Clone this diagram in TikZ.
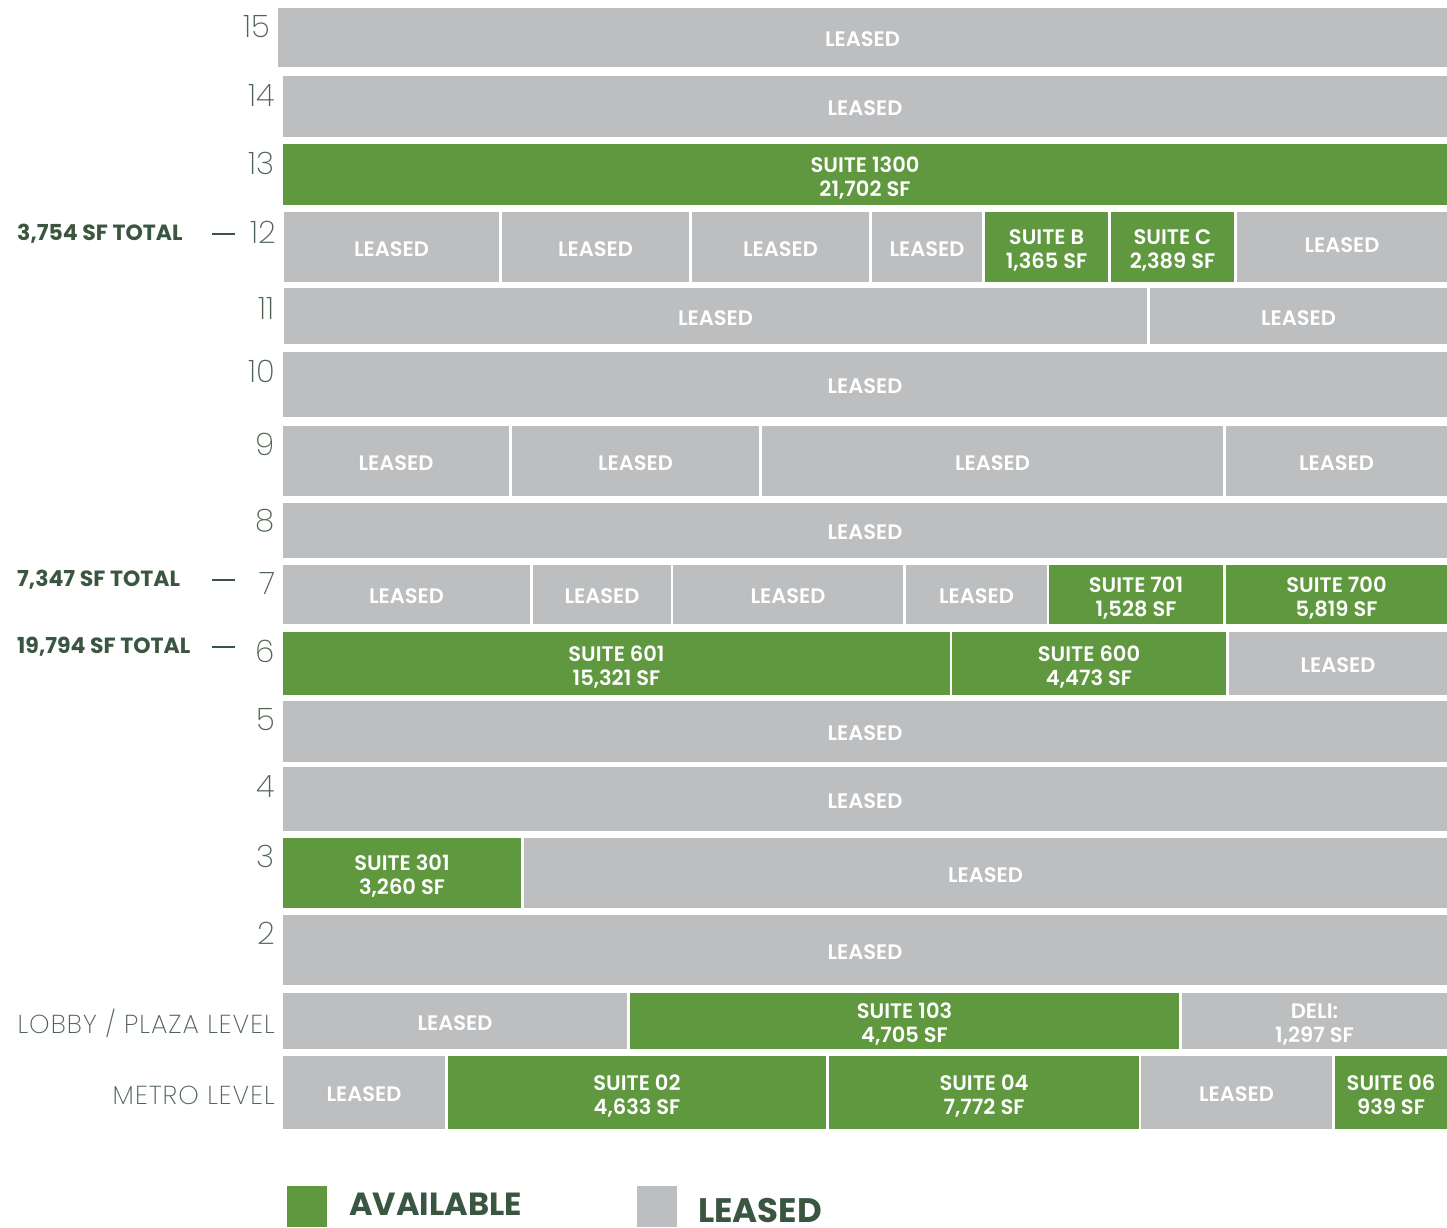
\documentclass[tikz,border=0pt]{standalone}
\usepackage{fontspec}
\setmainfont{Poppins}[BoldFont={Poppins SemiBold}]
\newfontfamily\lightfont{Poppins ExtraLight}
\newfontfamily\lightwide{Poppins ExtraLight}[LetterSpace=4]
\newfontfamily\heavyfont{Poppins Bold}
\definecolor{availgreen}{RGB}{96,152,64}
\definecolor{leasedgray}{RGB}{189,190,192}
\definecolor{darkgreen}{RGB}{59,86,64}
\definecolor{numcol}{RGB}{80,100,84}
\tikzset{
  cellbox/.style={inner sep=0pt, outer sep=0pt},
  availcell/.style={cellbox, fill=availgreen},
  leasedcell/.style={cellbox, fill=leasedgray},
  celltext/.style={inner sep=0pt, align=center, text=white, text depth=0pt,
    font=\bfseries\fontsize{21}{24}\selectfont},
  floornum/.style={anchor=east, inner sep=0pt, text=numcol,
    font=\lightfont\fontsize{31}{31}\selectfont},
  levellabel/.style={anchor=east, inner sep=0pt, text=numcol,
    font=\lightwide\fontsize{26}{26}\selectfont},
  totallabel/.style={anchor=west, inner sep=0pt, text=darkgreen,
    font=\heavyfont\fontsize{22}{22}\selectfont},
  totaldash/.style={draw=darkgreen, line width=2.5pt},
  legendbox/.style={inner sep=0pt, outer sep=0pt, minimum width=40pt, minimum height=41pt},
  legendtext/.style={anchor=west, inner sep=0pt, text=darkgreen,
    font=\heavyfont\fontsize{32}{32}\selectfont}
}
% \bx{name}{x1}{y1}{x2}{y2}{style}{text}
\newcommand\bx[7]{%
  \node[#6, minimum width={#4-#2}, minimum height={#5-#3}] (#1) at ({(#2+#4)/2},{(#3+#5)/2}) {};
  \node[celltext] (#1-t) at ([yshift=-1.8pt]#1.center) {#7};}
\begin{document}
\begin{tikzpicture}[x=1pt,y=-1pt]
\useasboundingbox (0,0) rectangle (1447,1227);
% floor 15
\bx{f15}{278}{8}{1447}{67}{leasedcell}{LEASED}
% floor 14
\bx{f14}{283}{76}{1447}{137}{leasedcell}{LEASED}
% floor 13
\bx{f13}{283}{144}{1447}{205}{availcell}{SUITE 1300\\21,702 SF}
% floor 12
\bx{f12a}{284}{212}{499}{282}{leasedcell}{LEASED}
\bx{f12b}{502}{212}{689}{282}{leasedcell}{LEASED}
\bx{f12c}{692}{212}{869}{282}{leasedcell}{LEASED}
\bx{f12d}{872}{212}{982}{282}{leasedcell}{LEASED}
\bx{f12e}{985}{212}{1108}{282}{availcell}{SUITE B\\1,365 SF}
\bx{f12f}{1111}{212}{1234}{282}{availcell}{SUITE C\\2,389 SF}
\node[leasedcell, minimum width=210pt, minimum height=70pt] (f12g) at (1342,247) {};
\node[celltext] (f12g-t) at ([yshift=1.5pt]f12g.center) {LEASED};
% floor 11
\bx{f11a}{284}{288}{1147}{344}{leasedcell}{LEASED}
\bx{f11b}{1150}{288}{1447}{344}{leasedcell}{LEASED}
% floor 10
\bx{f10}{283}{352}{1447}{417}{leasedcell}{LEASED}
% floor 9
\bx{f9a}{283}{426}{509}{496}{leasedcell}{LEASED}
\bx{f9b}{512}{426}{759}{496}{leasedcell}{LEASED}
\bx{f9c}{762}{426}{1223}{496}{leasedcell}{LEASED}
\bx{f9d}{1226}{426}{1447}{496}{leasedcell}{LEASED}
% floor 8
\bx{f8}{283}{503}{1447}{558}{leasedcell}{LEASED}
% floor 7
\bx{f7a}{283}{565}{530}{624}{leasedcell}{LEASED}
\bx{f7b}{533}{565}{671}{624}{leasedcell}{LEASED}
\bx{f7c}{673}{565}{903}{624}{leasedcell}{LEASED}
\bx{f7d}{906}{565}{1047}{624}{leasedcell}{LEASED}
\bx{f7e}{1049}{565}{1223}{624}{availcell}{SUITE 701\\1,528 SF}
\bx{f7f}{1226}{565}{1447}{624}{availcell}{SUITE 700\\5,819 SF}
% floor 6
\bx{f6a}{283}{632}{950}{695}{availcell}{SUITE 601\\15,321 SF}
\bx{f6b}{952}{632}{1226}{695}{availcell}{SUITE 600\\4,473 SF}
\bx{f6c}{1229}{632}{1447}{695}{leasedcell}{LEASED}
% floor 5
\bx{f5}{283}{701}{1447}{762}{leasedcell}{LEASED}
% floor 4
\bx{f4}{283}{767}{1447}{831}{leasedcell}{LEASED}
% floor 3
\bx{f3a}{283}{838}{521}{908}{availcell}{SUITE 301\\3,260 SF}
\bx{f3b}{524}{838}{1447}{908}{leasedcell}{LEASED}
% floor 2
\bx{f2}{283}{915}{1447}{985}{leasedcell}{LEASED}
% lobby
\bx{la}{283}{993}{627}{1049}{leasedcell}{LEASED}
\bx{lb}{630}{993}{1179}{1049}{availcell}{SUITE 103\\4,705 SF}
\bx{lc}{1182}{993}{1447}{1049}{leasedcell}{DELI:\\1,297 SF}
% metro
\bx{ma}{283}{1056}{445}{1129}{leasedcell}{LEASED}
\bx{mb}{448}{1056}{826}{1129}{availcell}{SUITE 02\\4,633 SF}
\bx{mc}{829}{1056}{1139}{1129}{availcell}{SUITE 04\\7,772 SF}
\bx{md}{1141}{1056}{1332}{1129}{leasedcell}{LEASED}
\bx{me}{1335}{1056}{1447}{1129}{availcell}{SUITE 06\\939 SF}
% floor numbers
\node[floornum] (n15) at (270,27) {15};
\node[floornum] (n14) at (275,95) {14};
\node[floornum] (n13) at (275,163) {13};
\node[floornum] (n12) at (276,232) {12};
\node[floornum] (n11) at (275,308) {11};
\node[floornum] (n10) at (275,371) {10};
\node[floornum] (n9) at (275,444) {9};
\node[floornum] (n8) at (275,521) {8};
\node[floornum] (n7) at (276,583) {7};
\node[floornum] (n6) at (275,651) {6};
\node[floornum] (n5) at (275,720) {5};
\node[floornum] (n4) at (275,787) {4};
\node[floornum] (n3) at (275,856) {3};
\node[floornum] (n2) at (275,933) {2};
\node[levellabel] (nlobby) at (275,1023) {LOBBY / PLAZA LEVEL};
\node[levellabel] (nmetro) at (275,1095) {METRO LEVEL};
% totals
\node[totallabel] (t12) at (17,234) {3,754 SF TOTAL};
\node[totallabel] (t7) at (17,580) {7,347 SF TOTAL};
\node[totallabel] (t6) at (17,647) {19,794 SF TOTAL};
\coordinate (d12a) at (212,234); \coordinate (d12b) at (235,234);
\coordinate (d7a) at (212,580); \coordinate (d7b) at (235,580);
\coordinate (d6a) at (212,647); \coordinate (d6b) at (235,647);
\draw[totaldash] (d12a) -- (d12b);
\draw[totaldash] (d7a) -- (d7b);
\draw[totaldash] (d6a) -- (d6b);
% legend
\node[legendbox, fill=availgreen] (lgA) at (307,1206.5) {};
\node[legendtext] (lgAt) at (349,1204) {AVAILABLE};
\node[legendbox, fill=leasedgray] (lgL) at (657,1206.5) {};
\node[legendtext, font=\heavyfont\fontsize{34}{34}\selectfont] (lgLt) at (698,1210) {LEASED};
\end{tikzpicture}
\end{document}
